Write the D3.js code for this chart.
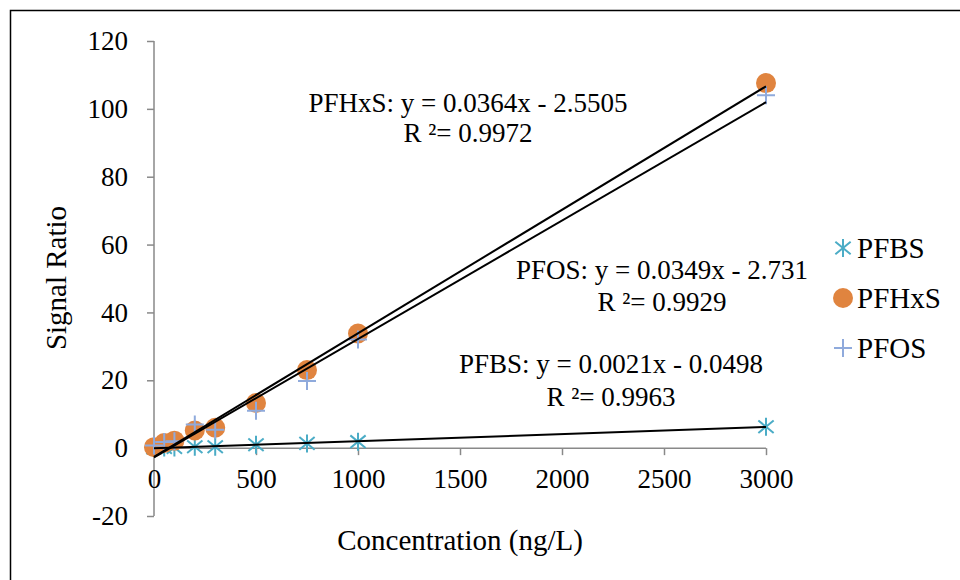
<!DOCTYPE html>
<html>
<head>
<meta charset="utf-8">
<script src="https://cdn.jsdelivr.net/npm/d3@7"></script>
<style>
    body { margin: 0; background: #fff; }
    svg text { font-family: "Liberation Serif", "Times New Roman", serif; fill: #000; }
    .axis path, .axis line { stroke: #898989; stroke-width: 1.5px; }
</style>
</head>
<body>
<script>

// DATA

const concentrations = [0, 50, 100, 200, 300, 500, 750, 1000, 3000];
const pfbs  = [0.1, 0.2, 0.2, 0.4, 0.4, 1.0, 1.4, 1.9, 6.3];
const pfhxs = [0.3, 1.5, 2.2, 5.2, 6.0, 13.3, 23.0, 33.8, 107.6];
const pfos  = [0.8, 1.8, 2.0, 7.0, 5.4, 11.0, 19.8, 32.0, 104.0];

const seriesNames = ['PFBS', 'PFHxS', 'PFOS'];
const slopes = [0.0021, 0.0364, 0.0349];
const intercepts = [-0.0498, -2.5505, -2.731];
const rSquared = ['0.9963', '0.9972', '0.9929'];
const equationText = [
    'PFBS: y = 0.0021x - 0.0498',
    'PFHxS: y = 0.0364x - 2.5505',
    'PFOS: y = 0.0349x - 2.731'
];

const xTicks = [0, 500, 1000, 1500, 2000, 2500, 3000];
const yTicks = [-20, 0, 20, 40, 60, 80, 100, 120];

const colors = ['#4BACC6', '#E0843F', '#8FAADC'];

// SCALES

const width = 960, height = 580;
const fontFamily = '"Liberation Serif", "Times New Roman", serif';

const x = d3.scaleLinear().domain([0, 3000]).range([154, 766]);
const y = d3.scaleLinear().domain([-20, 120]).range([516, 41]);

const svg = d3.select('body')
    .append('svg')
    .attr('width', width)
    .attr('height', height);

// outer frame (runs off the right and bottom edge)
svg.append('rect')
    .attr('x', 10.5)
    .attr('y', 10.5)
    .attr('width', 1000)
    .attr('height', 700)
    .attr('fill', 'none')
    .attr('stroke', '#000')
    .attr('stroke-width', 1.5);

// AXES

const plainFormat = function(d){ return String(d); };

const yAxis = svg.append('g')
    .attr('class', 'axis')
    .attr('transform', 'translate(' + x(0) + ',0)')
    .call(d3.axisLeft(y).tickValues(yTicks).tickFormat(plainFormat)
        .tickSize(7).tickPadding(19).tickSizeOuter(0));
yAxis.select('.domain').attr('d', 'M0,' + y(-20) + 'V' + y(120));

const xAxis = svg.append('g')
    .attr('class', 'axis')
    .attr('transform', 'translate(0,' + y(0) + ')')
    .call(d3.axisBottom(x).tickValues(xTicks).tickFormat(plainFormat)
        .tickSize(7).tickPadding(14).tickSizeOuter(0));
xAxis.select('.domain').attr('d', 'M' + x(0) + ',0H' + x(3000));
// first tick sits on the y axis
xAxis.selectAll('.tick line').filter(function(d){ return d === 0; }).remove();

svg.selectAll('.axis')
    .attr('font-family', fontFamily)
    .attr('font-size', 27);

// axis titles
svg.append('text')
    .attr('x', 460)
    .attr('y', 550)
    .attr('text-anchor', 'middle')
    .style('font-size', '29px')
    .text('Concentration (ng/L)');

svg.append('text')
    .attr('transform', 'translate(66,278) rotate(-90)')
    .attr('text-anchor', 'middle')
    .style('font-size', '29px')
    .text('Signal Ratio');

// MARKERS

function starPath(r){
    return 'M0,' + (-r) + 'V' + r +
        'M' + (-r * 0.85) + ',' + (-r * 0.7) + 'L' + (r * 0.85) + ',' + (r * 0.7) +
        'M' + (-r * 0.85) + ',' + (r * 0.7) + 'L' + (r * 0.85) + ',' + (-r * 0.7);
}

function plusPath(r){
    return 'M0,' + (-r) + 'V' + r + 'M' + (-r) + ',0H' + r;
}

function drawMarker(g, i, px, py){
    if (i === 0){
        g.append('path')
            .attr('d', starPath(9))
            .attr('transform', 'translate(' + px + ',' + py + ')')
            .attr('stroke', colors[0])
            .attr('stroke-width', 2)
            .attr('fill', 'none');
    } else if (i === 1){
        g.append('circle')
            .attr('cx', px)
            .attr('cy', py)
            .attr('r', 10)
            .attr('fill', colors[1]);
    } else {
        g.append('path')
            .attr('d', plusPath(9))
            .attr('transform', 'translate(' + px + ',' + py + ')')
            .attr('stroke', colors[2])
            .attr('stroke-width', 2)
            .attr('fill', 'none');
    }
}

const allSeries = [pfbs, pfhxs, pfos];
const points = svg.append('g').attr('class', 'points');

allSeries.forEach(function(values, i){
    values.forEach(function(v, j){
        drawMarker(points, i, x(concentrations[j]), y(v));
    });
});

// TRENDLINES

const xMin = d3.min(concentrations), xMax = d3.max(concentrations);

svg.selectAll('.trend')
    .data(seriesNames)
    .enter()
    .append('line')
    .attr('class', 'trend')
    .attr('x1', x(xMin))
    .attr('x2', x(xMax))
    .attr('y1', function(d, i){ return y(slopes[i] * xMin + intercepts[i]); })
    .attr('y2', function(d, i){ return y(slopes[i] * xMax + intercepts[i]); })
    .attr('stroke', '#000')
    .attr('stroke-width', 2);

// EQUATION LABELS

const labelPos = [[611, 373, 406], [468, 112, 142], [662, 279, 311]];

seriesNames.forEach(function(name, i){
    svg.append('text')
        .attr('x', labelPos[i][0])
        .attr('y', labelPos[i][1])
        .attr('text-anchor', 'middle')
        .style('font-size', '27px')
        .text(equationText[i]);
    svg.append('text')
        .attr('x', labelPos[i][0])
        .attr('y', labelPos[i][2])
        .attr('text-anchor', 'middle')
        .style('font-size', '27px')
        .text('R ²= ' + rSquared[i]);
});

// LEGEND

const legend = svg.append('g').attr('class', 'legend');

seriesNames.forEach(function(name, i){
    const ly = 248 + i * 50;
    drawMarker(legend, i, 843, ly);
    legend.append('text')
        .attr('x', 857)
        .attr('y', ly + 10)
        .style('font-size', '29px')
        .text(name);
});

</script>
</body>
</html>
